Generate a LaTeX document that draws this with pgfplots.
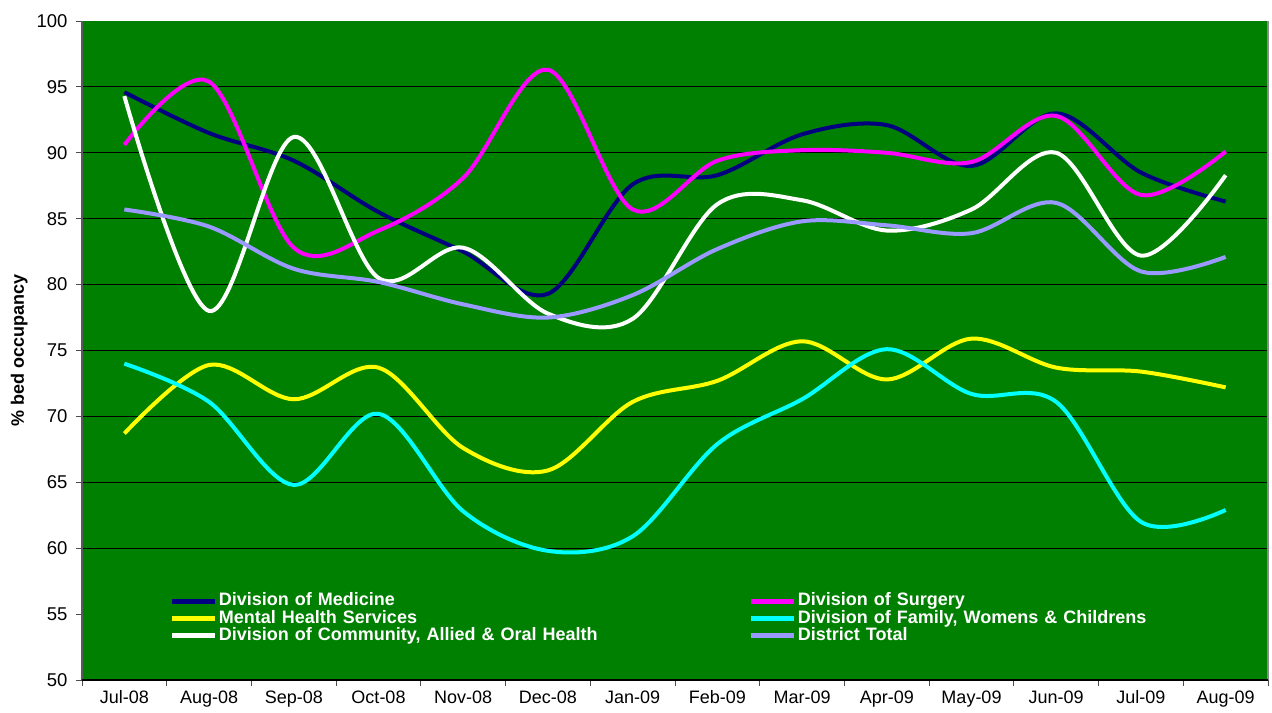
\documentclass[border=0pt]{standalone}
\usepackage{pgfplots}
\pgfplotsset{compat=1.18}
\usepackage{fontspec}
\setmainfont{Liberation Sans}
\definecolor{bggreen}{RGB}{0,128,0}
\definecolor{cnavy}{RGB}{0,0,128}
\definecolor{cmag}{RGB}{255,0,255}
\definecolor{cyel}{RGB}{255,255,0}
\definecolor{ccyan}{RGB}{0,255,255}
\definecolor{clav}{RGB}{153,153,255}
\begin{document}
\begin{tikzpicture}
\begin{axis}[
  scale only axis,
  width=1186pt, height=659pt,
  xmin=-0.5, xmax=13.5, ymin=50, ymax=100,
  axis line style={draw=none},
  axis background/.style={fill=bggreen},
  xtick pos=bottom, ytick pos=left,
  ytick={50,55,...,100},
  yticklabel style={font=\fontsize{18.5}{18.5}\selectfont, xshift=-5pt},
  /pgf/number format/assume math mode=true,
  major tick length=6pt,
  tick style={black!70, line width=0.8pt},
  tick align=outside,
  extra y ticks={60,65,...,95},
  extra y tick labels={},
  extra y tick style={grid=major, major tick length=0pt},
  major grid style={black, line width=0.9pt},
  xtick={-0.5,0.5,...,13.5},
  xticklabels={},
  extra x ticks={0,...,13},
  extra x tick labels={Jul-08,Aug-08,Sep-08,Oct-08,Nov-08,Dec-08,Jan-09,Feb-09,Mar-09,Apr-09,May-09,Jun-09,Jul-09,Aug-09},
  extra x tick style={major tick length=0pt, xticklabel style={font=\fontsize{18}{18}\selectfont, yshift=-7pt}},
  ylabel={\bfseries\% bed occupancy},
  ylabel style={font=\fontsize{18}{18}\selectfont},
  ylabel shift=-4pt,
  clip=false,
  legend columns=2,
  legend style={at={(rel axis cs:0.074,0.1325)}, anchor=north west, draw=none, fill=none,
    font=\fontsize{18}{18}\selectfont\bfseries, text=white,
    inner sep=0pt, row sep=0pt,
    nodes={text width=529pt, align=left, inner xsep=1pt, inner ysep=0pt, text height=13.1pt, text depth=4.1pt}},
  legend image code/.code={\draw[#1, line width=5pt] (0pt,0pt) -- (43pt,0pt);},
  every axis plot/.append style={line width=4pt, smooth, tension=0.55},
]
\addplot[cnavy] coordinates {(0,94.6) (1,91.5) (2,89.4) (3,85.5) (4,82.5) (5,79.3) (6,87.6) (7,88.3) (8,91.4) (9,92.1) (10,89.0) (11,93.0) (12,88.5) (13,86.3)};
\addlegendentry{Division of Medicine}
\addplot[cmag] coordinates {(0,90.6) (1,95.4) (2,82.8) (3,84.1) (4,88.1) (5,96.3) (6,85.7) (7,89.4) (8,90.2) (9,90.0) (10,89.3) (11,92.8) (12,86.8) (13,90.1)};
\addlegendentry{Division of Surgery}
\addplot[cyel] coordinates {(0,68.7) (1,73.9) (2,71.3) (3,73.7) (4,67.6) (5,65.9) (6,71.1) (7,72.7) (8,75.7) (9,72.8) (10,75.9) (11,73.7) (12,73.4) (13,72.2)};
\addlegendentry{Mental Health Services}
\addplot[ccyan] coordinates {(0,74.0) (1,71.1) (2,64.8) (3,70.2) (4,62.8) (5,59.8) (6,60.9) (7,67.9) (8,71.3) (9,75.1) (10,71.7) (11,71.1) (12,62.0) (13,62.9)};
\addlegendentry{Division of Family, Womens \& Childrens}
\addplot[white] coordinates {(0,94.3) (1,78.0) (2,91.2) (3,80.5) (4,82.8) (5,77.8) (6,77.4) (7,86.1) (8,86.4) (9,84.1) (10,85.7) (11,90.0) (12,82.2) (13,88.3)};
\addlegendentry{Division of Community, Allied \& Oral Health}
\addplot[clav] coordinates {(0,85.7) (1,84.4) (2,81.2) (3,80.2) (4,78.5) (5,77.5) (6,79.2) (7,82.7) (8,84.8) (9,84.5) (10,83.9) (11,86.2) (12,81.0) (13,82.1)};
\addlegendentry{District Total}
\draw[black!65, line width=1.2pt] (rel axis cs:0,0) -- (rel axis cs:0,1);
\draw[black!45, line width=1.2pt] (rel axis cs:1,0) -- (rel axis cs:1,1);
\draw[black, line width=1.2pt] (rel axis cs:0,0) -- (rel axis cs:1,0);
\coordinate (bl) at (rel axis cs:0,0);
\coordinate (tr) at (rel axis cs:1,1);
\end{axis}
\pgfresetboundingbox
\path ([xshift=-82pt,yshift=-33pt]bl) rectangle ([xshift=4pt,yshift=21pt]tr);
\end{tikzpicture}
\end{document}
